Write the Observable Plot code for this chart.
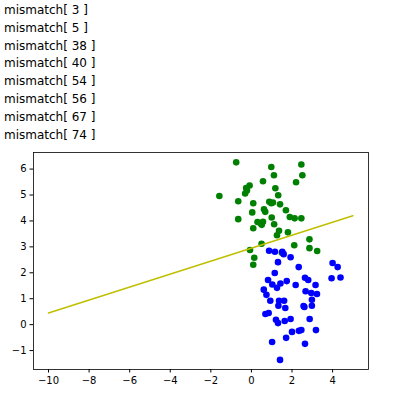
<!DOCTYPE html>
<html>
<head>
<meta charset="utf-8">
<script src="https://cdn.jsdelivr.net/npm/d3@7"></script>
<script src="https://cdn.jsdelivr.net/npm/@observablehq/plot@0.6"></script>
<style>
  html, body { margin: 0; padding: 0; background: #fff; }
  #log { height: 150px; box-sizing: border-box; padding: 2px 0 0 4px;
         font-family: "DejaVu Sans", sans-serif; font-size: 12px; line-height: 17.8px; color: #000; }
  #chart svg { display: block; }
</style>
</head>
<body>
<div id="log"></div>
<div id="chart"></div>
<script>
const mismatchIdx = [3, 5, 38, 40, 54, 56, 67, 74];

const greenX = [-0.75,0.98,2.46,1.11,2.51,0.57,2.20,-0.09,-0.26,-0.22,-0.31,1.18,-1.58,1.32,-0.65,0.09,0.88,0.98,1.06,1.41,0.62,0.68,0.04,1.70,-0.65,1.00,1.89,2.13,2.46,1.12,0.30,0.46,0.57,0.51,0.09,1.36,1.26,1.80,0.50,2.86,2.86,2.11,3.24,-0.07,0.14,0.09,1.50];
const greenY = [6.26,6.08,6.18,5.76,5.76,5.53,5.49,5.37,5.27,5.17,5.06,5.26,4.96,4.99,4.76,4.68,4.74,4.68,4.71,4.64,4.45,4.35,4.33,4.41,4.07,4.13,4.15,4.10,4.10,3.87,3.96,3.90,3.97,3.85,3.72,3.62,3.45,3.56,3.12,3.29,2.95,3.06,2.84,2.88,2.58,2.31,2.77];

const blueX = [0.87,1.16,1.52,1.59,1.31,1.93,2.33,4.00,4.25,1.15,0.82,1.74,2.64,2.80,3.95,4.39,1.03,1.43,1.26,2.18,3.16,0.61,0.74,2.67,2.95,3.23,2.98,0.93,1.36,1.61,1.33,1.67,2.57,2.61,2.98,0.69,0.85,1.21,1.31,1.64,1.93,2.87,2.00,2.34,2.46,3.18,1.02,1.71,2.64,1.41];
const blueY = [2.85,2.81,2.81,2.72,2.41,2.60,2.22,2.38,2.22,1.99,1.72,1.68,1.81,1.72,1.79,1.82,1.55,1.59,1.42,1.53,1.53,1.35,1.15,1.29,1.22,1.18,0.96,0.92,0.92,0.92,0.73,0.64,0.72,0.68,0.73,0.41,0.45,0.19,0.06,0.14,0.22,0.22,-0.28,-0.24,-0.21,-0.21,-0.67,-0.51,-0.74,-1.36];

const lineX = [-10, 5];
const lineY = [0.45, 4.2];

const xTicks = [-10, -8, -6, -4, -2, 0, 2, 4];
const yTicks = [-1, 0, 1, 2, 3, 4, 5, 6];

const log = document.getElementById("log");
for (const i of mismatchIdx) {
  const d = document.createElement("div");
  d.textContent = "mismatch[ " + i + " ]";
  log.appendChild(d);
}

const green = greenX.map((x, i) => ({x, y: greenY[i]}));
const blue = blueX.map((x, i) => ({x, y: blueY[i]}));
const line = lineX.map((x, i) => ({x, y: lineY[i]}));

const chart = Plot.plot({
  width: 400,
  height: 246,
  marginLeft: 33,
  marginRight: 32,
  marginTop: 2,
  marginBottom: 27,
  style: {fontFamily: "DejaVu Sans, sans-serif", fontSize: "10px", color: "#000", background: "#fff"},
  x: {domain: [-10.74, 5.77], ticks: xTicks, tickFormat: d => d < 0 ? "\u2212" + Math.abs(d) : String(d)},
  y: {domain: [-1.73, 6.64], ticks: yTicks, tickFormat: d => d < 0 ? "\u2212" + Math.abs(d) : String(d)},
  marks: [
    Plot.dot(green, {x: "x", y: "y", r: 3.3, fill: "#008000", stroke: "none"}),
    Plot.dot(blue, {x: "x", y: "y", r: 3.3, fill: "#0000ff", stroke: "none"}),
    Plot.line(line, {x: "x", y: "y", stroke: "#bfbf00", strokeWidth: 1.5}),
    Plot.frame({stroke: "#000", strokeWidth: 0.8}),
    Plot.axisX({ticks: xTicks, tickSize: 3.5, tickPadding: 3.5, label: null, tickFormat: d => d < 0 ? "\u2212" + Math.abs(d) : String(d)}),
    Plot.axisY({ticks: yTicks, tickSize: 3.5, tickPadding: 3.5, label: null, tickFormat: d => d < 0 ? "\u2212" + Math.abs(d) : String(d)})
  ]
});
document.getElementById("chart").appendChild(chart);
</script>
</body>
</html>
